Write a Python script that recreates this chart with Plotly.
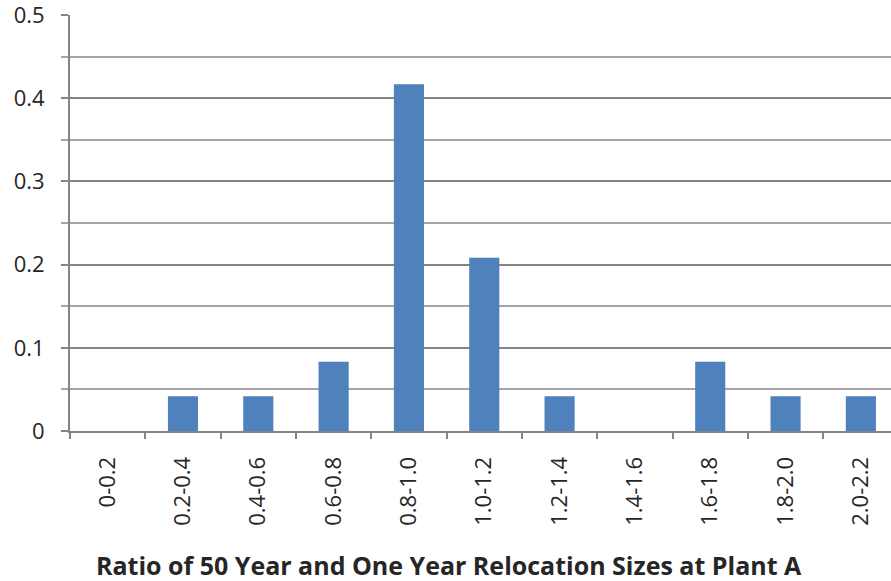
import plotly.graph_objects as go

# Relative frequency of relocation-size ratios (24 cases)
bins = ["0-0.2", "0.2-0.4", "0.4-0.6", "0.6-0.8", "0.8-1.0", "1.0-1.2",
        "1.2-1.4", "1.4-1.6", "1.6-1.8", "1.8-2.0", "2.0-2.2"]
fractions = [0.0, 0.0417, 0.0417, 0.0833, 0.4167, 0.2083,
             0.0417, 0.0, 0.0833, 0.0417, 0.0417]
y_ticks = [0, 0.1, 0.2, 0.3, 0.4, 0.5]
y_tick_labels = ["0", "0.1", "0.2", "0.3", "0.4", "0.5"]
x_title = "Ratio of 50 Year and One Year Relocation Sizes at Plant A"

axis_grey = "#858585"
text_col = "#262626"

fig = go.Figure(go.Bar(
    x=bins, y=fractions,
    marker=dict(color="#4f81bd", line=dict(width=0)),
    width=0.4,
))

fig.update_layout(
    width=891, height=581,
    margin=dict(l=70, r=0, t=15, b=150),
    paper_bgcolor="white", plot_bgcolor="white",
    showlegend=False,
    font=dict(family="Open Sans, Noto Sans, sans-serif", color=text_col),
    xaxis=dict(
        type="category",
        range=[-0.5, 10.4],
        showgrid=False,
        showline=True, linecolor=axis_grey, linewidth=2,
        ticks="outside", ticklen=6, tickcolor=axis_grey, tickwidth=2,
        tickson="boundaries",
        tickangle=-90,
        ticklabelstandoff=15,
        ticklabeloverflow="allow",
        tickfont=dict(size=22, color=text_col),
    ),
    yaxis=dict(
        range=[0, 0.5],
        tickvals=y_ticks, ticktext=y_tick_labels,
        showgrid=True, gridcolor=axis_grey, gridwidth=2,
        showline=True, linecolor=axis_grey, linewidth=2,
        ticks="outside", ticklen=7, tickcolor=axis_grey, tickwidth=2,
        ticklabelstandoff=12,
        ticklabeloverflow="allow",
        tickfont=dict(size=22, color=text_col),
        minor=dict(dtick=0.05, showgrid=True, gridcolor="#a5a5a5", gridwidth=1.5,
                   ticks="outside", ticklen=7, tickcolor="#a5a5a5", tickwidth=1.5),
        zeroline=False,
    ),
    annotations=[dict(
        text="<b>" + x_title + "</b>",
        xref="paper", yref="paper", x=0.4616, y=-0.322,
        xanchor="center", yanchor="middle", showarrow=False,
        font=dict(size=25, color=text_col),
    )],
)

fig.write_html("out.html")
